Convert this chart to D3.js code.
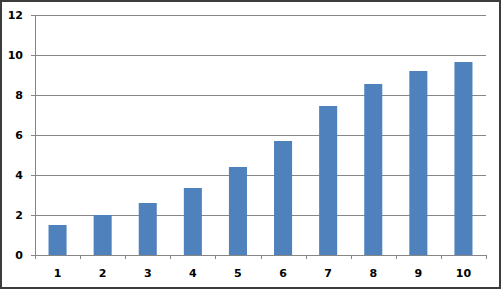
<!DOCTYPE html>
<html>
<head>
<meta charset="utf-8">
<script src="https://cdn.jsdelivr.net/npm/d3@7"></script>
<style>
  body { margin: 0; background: #fff; }
  .tick text { font-family: "DejaVu Sans", Verdana, sans-serif; font-weight: bold; font-size: 11px; fill: #000; }
</style>
</head>
<body>
<div id="chart"></div>
<script>
// Chart data
var categories = ["1", "2", "3", "4", "5", "6", "7", "8", "9", "10"];
var values = [1.5, 2.0, 2.6, 3.35, 4.4, 5.7, 7.45, 8.55, 9.2, 9.65];
var yTicks = [0, 2, 4, 6, 8, 10, 12];

var W = 502, H = 291;
var margin = { top: 15, right: 16, bottom: 36, left: 35 };
var width = W - margin.left - margin.right;
var height = H - margin.top - margin.bottom;

var svg = d3.select("#chart")
  .append("svg")
  .attr("width", W)
  .attr("height", H);

// outer frame
svg.append("rect")
  .attr("x", 1).attr("y", 1)
  .attr("width", W - 3).attr("height", H - 4)
  .attr("fill", "#fff")
  .attr("stroke", "#3c3c3c")
  .attr("stroke-width", 2);

var g = svg.append("g")
  .attr("transform", "translate(" + margin.left + "," + margin.top + ")");

var x = d3.scaleBand()
  .domain(categories)
  .range([0, width])
  .paddingInner(0.6)
  .paddingOuter(0.3);

// band used for tick positions at category boundaries
var xCat = d3.scaleBand().domain(categories).range([0, width]);

var y = d3.scaleLinear()
  .domain([0, 12])
  .range([height, 0]);

// gridlines
g.append("g")
  .selectAll("line")
  .data(yTicks.filter(function (d) { return d > 0; }))
  .enter()
  .append("line")
  .attr("x1", 0).attr("x2", width)
  .attr("y1", function (d) { return Math.round(y(d)) + 0.5; })
  .attr("y2", function (d) { return Math.round(y(d)) + 0.5; })
  .attr("stroke", "#868686");

// bars
g.selectAll(".bar")
  .data(values)
  .enter()
  .append("rect")
  .attr("class", "bar")
  .attr("x", function (d, i) { return x(categories[i]); })
  .attr("width", x.bandwidth())
  .attr("y", function (d) { return y(d); })
  .attr("height", function (d) { return height - y(d); })
  .attr("fill", "#4F81BD");

// y axis
var yAxis = g.append("g")
  .call(d3.axisLeft(y).tickValues(yTicks).tickSize(4).tickPadding(8).tickFormat(d3.format("d")));
yAxis.selectAll("line, path").attr("stroke", "#868686");

// x axis
var xAxis = g.append("g")
  .attr("transform", "translate(0," + height + ")")
  .call(d3.axisBottom(xCat).tickSize(0).tickPadding(14));
xAxis.select(".domain").attr("stroke", "#868686");

// x tick marks at category boundaries
xAxis.selectAll(".bound")
  .data(d3.range(categories.length + 1))
  .enter()
  .append("line")
  .attr("class", "bound")
  .attr("x1", function (i) { return Math.round(i * xCat.step()) + 0.5; })
  .attr("x2", function (i) { return Math.round(i * xCat.step()) + 0.5; })
  .attr("y1", 0).attr("y2", 4)
  .attr("stroke", "#868686");
</script>
</body>
</html>
